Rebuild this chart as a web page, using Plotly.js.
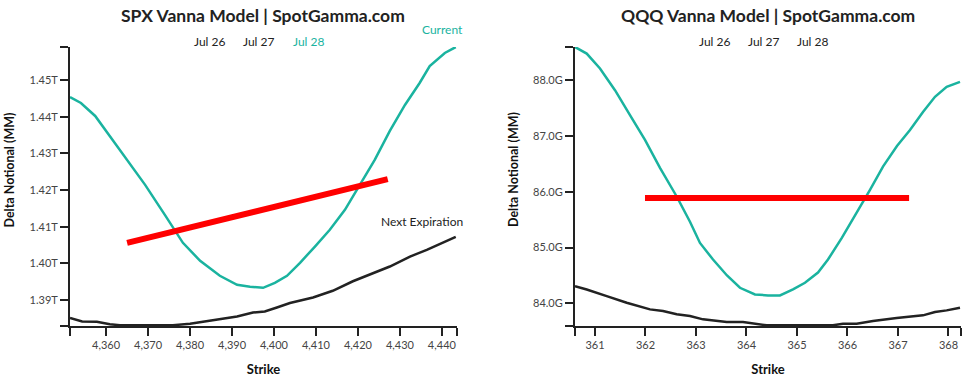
<!DOCTYPE html>
<html>
<head>
<meta charset="utf-8">
<script src="https://cdn.plot.ly/plotly-3.0.1.min.js"></script>
<style>html,body{margin:0;padding:0;background:#fff;}#chart{width:971px;height:377px;}</style>
</head>
<body>
<div id="chart"></div>
<script>
// ---------- SPX (values in trillions) ----------
const spxCurrentStrike = [4351.4,4354.0,4357.4,4363.3,4369.3,4374.0,4378.3,4382.4,4387.1,4391.2,4394.3,4397.4,4400.2,4403.1,4406.2,4409.7,4413.3,4416.9,4420.4,4424.0,4427.6,4431.2,4434.7,4437.1,4440.7,4443.3];
const spxCurrentValue  = [1.44537,1.44373,1.44019,1.43093,1.42139,1.41322,1.40559,1.40068,1.39659,1.39414,1.39360,1.39332,1.39469,1.39659,1.40014,1.40450,1.40913,1.41458,1.42112,1.42820,1.43610,1.44319,1.44918,1.45381,1.45736,1.45899];
const spxNextStrike = [4351.4,4354.3,4357.8,4360.9,4363.3,4375.9,4380.0,4384.0,4391.2,4395.0,4397.8,4400.7,4403.8,4409.3,4414.0,4418.8,4427.6,4432.4,4436.4,4443.3];
const spxNextValue  = [1.38507,1.38414,1.38406,1.38338,1.38311,1.38311,1.38351,1.38420,1.38550,1.38659,1.38687,1.38796,1.38916,1.39068,1.39251,1.39510,1.39913,1.40185,1.40368,1.40722];
const spxTrendStrike = [4365.0, 4427.1];
const spxTrendValue  = [1.40555, 1.42294];
const spxXRange = [4351.4, 4443.6];
const spxYRange = [1.3829, 1.4590];
const spxXTickVals = [4351.4,4360,4370,4380,4390,4400,4410,4420,4430,4440,4443.6];
const spxXTickText = ['','4,360','4,370','4,380','4,390','4,400','4,410','4,420','4,430','4,440',''];
const spxYTickVals = [1.3829,1.39,1.40,1.41,1.42,1.43,1.44,1.45,1.4590];
const spxYTickText = ['','1.39T','1.40T','1.41T','1.42T','1.43T','1.44T','1.45T',''];

// ---------- QQQ (values in billions) ----------
const qqqCurrentStrike = [360.604,360.836,361.099,361.396,361.693,361.990,362.287,362.618,362.881,363.079,363.337,363.614,363.871,364.168,364.426,364.663,364.921,365.158,365.416,365.614,365.891,366.182,366.446,366.703,366.980,367.238,367.495,367.733,367.964,368.228];
const qqqCurrentValue  = [88.595,88.477,88.209,87.821,87.375,86.929,86.429,85.916,85.464,85.084,84.786,84.500,84.280,84.161,84.143,84.143,84.250,84.370,84.554,84.786,85.179,85.625,86.036,86.452,86.821,87.107,87.429,87.702,87.880,87.970];
const qqqNextStrike = [360.604,360.836,361.232,361.628,362.089,362.347,362.618,362.881,363.139,363.608,363.931,364.400,365.713,365.911,366.182,366.505,366.974,367.495,367.733,367.964,368.228];
const qqqNextValue  = [84.309,84.250,84.130,84.012,83.893,83.863,83.804,83.773,83.714,83.666,83.666,83.607,83.607,83.637,83.637,83.684,83.738,83.786,83.845,83.875,83.923];
const qqqTrendStrike = [361.99, 367.22];
const qqqTrendValue  = [85.887, 85.887];
const qqqXRange = [360.604, 368.248];
const qqqYRange = [83.595, 88.595];
const qqqXTickVals = [360.604,361,362,363,364,365,366,367,368,368.248];
const qqqXTickText = ['','361','362','363','364','365','366','367','368',''];
const qqqYTickVals = [83.595,84,85,86,87,88,88.595];
const qqqYTickText = ['','84.0G','85.0G','86.0G','87.0G','88.0G',''];

const legendDates = ['Jul 26','Jul 27','Jul 28'];
const spxTitle = 'SPX Vanna Model | SpotGamma.com';
const qqqTitle = 'QQQ Vanna Model | SpotGamma.com';
const xAxisTitle = 'Strike';
const yAxisTitle = 'Delta Notional (MM)';

const TEAL = '#1ab39f', DARK = '#222222', RED = '#ff0000';
const FONT = 'Lato, "Open Sans", sans-serif';
const T = 1e12, G = 1e9;
const sc = (arr, k) => arr.map(v => v * k);

const traces = [
  {x: spxNextStrike, y: sc(spxNextValue, T), xaxis: 'x', yaxis: 'y', mode: 'lines', line: {color: DARK, width: 2.5}},
  {x: spxCurrentStrike, y: sc(spxCurrentValue, T), xaxis: 'x', yaxis: 'y', mode: 'lines', line: {color: TEAL, width: 2.5}},
  {x: spxTrendStrike, y: sc(spxTrendValue, T), xaxis: 'x', yaxis: 'y', mode: 'lines', line: {color: RED, width: 6}},
  {x: qqqNextStrike, y: sc(qqqNextValue, G), xaxis: 'x2', yaxis: 'y2', mode: 'lines', line: {color: DARK, width: 2.5}},
  {x: qqqCurrentStrike, y: sc(qqqCurrentValue, G), xaxis: 'x2', yaxis: 'y2', mode: 'lines', line: {color: TEAL, width: 2.5}},
  {x: qqqTrendStrike, y: sc(qqqTrendValue, G), xaxis: 'x2', yaxis: 'y2', mode: 'lines', line: {color: RED, width: 6}}
];

const axisBase = {
  showgrid: false, zeroline: false, showline: true, linecolor: DARK, linewidth: 2,
  ticks: 'outside', ticklen: 8, tickwidth: 2, tickcolor: DARK,
  tickfont: {family: FONT, size: 11, color: '#444'}, tickmode: 'array'
};
const xTitle = {text: xAxisTitle, font: {family: FONT, size: 13, color: '#111', weight: 'bold'}, standoff: 15};

const W = 971 - 70 - 10;
const H = 279;
const px = x => (x - 70) / W;
const py = y => (326 - y) / H;
const ann = [];
const titleFont = {family: FONT, size: 17.5, color: '#222', weight: 'bold'};
ann.push({text: '<b>' + spxTitle + '</b>', x: px(263), y: py(16), xref: 'paper', yref: 'paper', showarrow: false, font: titleFont, xanchor: 'center', yanchor: 'middle'});
ann.push({text: '<b>' + qqqTitle + '</b>', x: px(767.5), y: py(16), xref: 'paper', yref: 'paper', showarrow: false, font: titleFont, xanchor: 'center', yanchor: 'middle'});
const yTitleFont = {family: FONT, size: 12.5, color: '#111', weight: 'bold'};
ann.push({text: '<b>' + yAxisTitle + '</b>', textangle: -90, x: px(8.5), y: py(170), xref: 'paper', yref: 'paper', showarrow: false, font: yTitleFont, xanchor: 'center', yanchor: 'middle'});
ann.push({text: '<b>' + yAxisTitle + '</b>', textangle: -90, x: px(513), y: py(170), xref: 'paper', yref: 'paper', showarrow: false, font: yTitleFont, xanchor: 'center', yanchor: 'middle'});
const spxLegendX = [209, 258.5, 308.5], qqqLegendX = [714, 763, 812.5];
legendDates.forEach((d, i) => {
  ann.push({text: d, x: px(spxLegendX[i]), y: py(42), xref: 'paper', yref: 'paper', showarrow: false, xanchor: 'center', yanchor: 'middle', font: {family: FONT, size: 12, color: i === 2 ? TEAL : '#222'}});
  ann.push({text: d, x: px(qqqLegendX[i]), y: py(42), xref: 'paper', yref: 'paper', showarrow: false, xanchor: 'center', yanchor: 'middle', font: {family: FONT, size: 12, color: '#222'}});
});
ann.push({text: 'Current', x: px(442), y: py(30), xref: 'paper', yref: 'paper', showarrow: false, xanchor: 'center', yanchor: 'middle', font: {family: FONT, size: 12, color: TEAL}});
ann.push({text: 'Next Expiration', x: px(422), y: py(221), xref: 'paper', yref: 'paper', showarrow: false, xanchor: 'center', yanchor: 'middle', font: {family: FONT, size: 12, color: '#222'}});

const layout = {
  width: 971, height: 377,
  margin: {l: 70, r: 10, t: 47, b: 51},
  paper_bgcolor: '#fff', plot_bgcolor: '#fff',
  showlegend: false,
  font: {family: FONT},
  xaxis: Object.assign({}, axisBase, {domain: [0, px(457)], range: spxXRange, tickvals: spxXTickVals, ticktext: spxXTickText, title: xTitle, anchor: 'y'}),
  yaxis: Object.assign({}, axisBase, {range: spxYRange.map(v => v * T), tickvals: sc(spxYTickVals, T), ticktext: spxYTickText, anchor: 'x'}),
  xaxis2: Object.assign({}, axisBase, {domain: [px(575), 1], range: qqqXRange, tickvals: qqqXTickVals, ticktext: qqqXTickText, title: xTitle, anchor: 'y2'}),
  yaxis2: Object.assign({}, axisBase, {range: qqqYRange.map(v => v * G), tickvals: sc(qqqYTickVals, G), ticktext: qqqYTickText, anchor: 'x2'}),
  annotations: ann
};

Plotly.newPlot('chart', traces, layout, {staticPlot: true, displayModeBar: false});
</script>
</body>
</html>
